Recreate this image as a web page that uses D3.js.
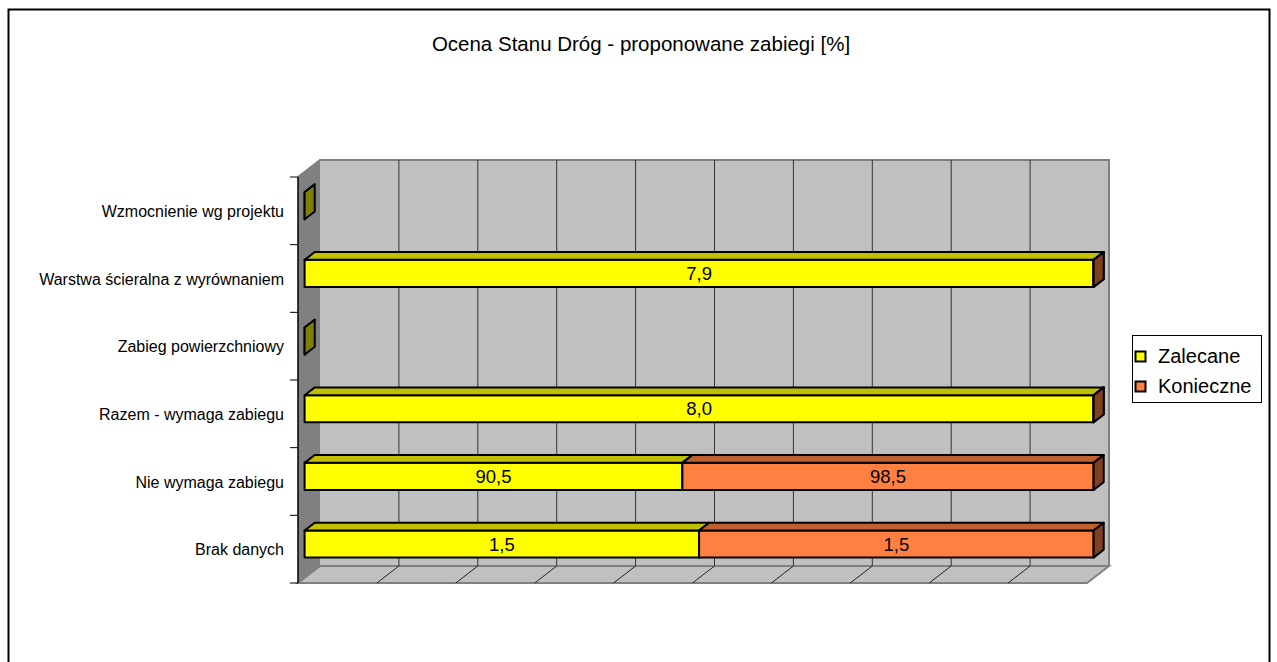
<!DOCTYPE html>
<html>
<head>
<meta charset="utf-8">
<script src="https://cdn.jsdelivr.net/npm/d3@7"></script>
<style>
  html, body { margin: 0; padding: 0; background: #fff; }
  svg { display: block; font-family: "Liberation Sans", Arial, sans-serif; }
</style>
</head>
<body>
<svg id="chart" width="1277" height="662"></svg>
<script>
// ---- data ----
const title = "Ocena Stanu Dróg - proponowane zabiegi [%]";
const categories = [
  "Wzmocnienie wg projektu",
  "Warstwa ścieralna z wyrównaniem",
  "Zabieg powierzchniowy",
  "Razem - wymaga zabiegu",
  "Nie wymaga zabiegu",
  "Brak danych"
];
const seriesNames = ["Zalecane", "Konieczne"];
const zalecane  = [0, 7.9, 0, 8.0, 90.5, 1.5];
const konieczne = [0, 0,   0, 0,   98.5, 1.5];
const gridValues = [0.1, 0.2, 0.3, 0.4, 0.5, 0.6, 0.7, 0.8, 0.9];

(function () {
// ---- style ----
const colors = {
  Zalecane:  { front: "#FFFF00", top: "#C0C000", side: "#808000" },
  Konieczne: { front: "#FF8040", top: "#C06030", side: "#804020" }
};

const svg = d3.select("#chart");

// plot geometry (front plane)
const pL = 298, pR = 1087, pT = 177, pB = 583;
const DX = 22, DY = -17;         // depth vector
const zFront = 0.3, zBack = 0.76; // bar depth

const x = d3.scaleLinear().domain([0, 1]).range([pL, pR]);
const y = d3.scaleBand().domain(categories).range([pT, pB])
  .paddingInner(0.6).paddingOuter(0.3);
const proj = (v, yy, z) => [x(v) + z * DX, yy + z * DY];
const pts = arr => arr.map(p => p.join(",")).join(" ");

// outer border
svg.append("rect").attr("x", 8.5).attr("y", 9.5).attr("width", 1261).attr("height", 720)
  .attr("fill", "#fff").attr("stroke", "#000").attr("stroke-width", 2);

// title
svg.append("text").attr("x", 641).attr("y", 51).attr("text-anchor", "middle")
  .attr("font-size", 20.5).attr("fill", "#000").text(title);

// walls
svg.append("polygon") // back wall
  .attr("points", pts([proj(0, pT, 1), proj(1, pT, 1), proj(1, pB, 1), proj(0, pB, 1)]))
  .attr("fill", "#C0C0C0");
svg.append("polygon") // left wall
  .attr("points", pts([proj(0, pT, 0), proj(0, pT, 1), proj(0, pB, 1), proj(0, pB, 0)]))
  .attr("fill", "#808080");
svg.append("polygon") // floor
  .attr("points", pts([proj(0, pB, 0), proj(0, pB, 1), proj(1, pB, 1), proj(1, pB, 0)]))
  .attr("fill", "#C0C0C0").attr("stroke", "#808080").attr("stroke-width", 2);
// back wall top & right edges
svg.append("polyline")
  .attr("points", pts([proj(0, pT, 0), proj(0, pT, 1), proj(1, pT, 1), proj(1, pB, 1)]))
  .attr("fill", "none").attr("stroke", "#808080").attr("stroke-width", 2);

// grid on back wall and floor
gridValues.forEach(v => {
  const a = proj(v, pT, 1), b = proj(v, pB, 1), c = proj(v, pB, 0);
  svg.append("line").attr("x1", a[0]).attr("y1", a[1]).attr("x2", b[0]).attr("y2", b[1])
    .attr("stroke", "#333").attr("stroke-width", 1);
  svg.append("line").attr("x1", c[0]).attr("y1", c[1]).attr("x2", b[0]).attr("y2", b[1])
    .attr("stroke", "#222").attr("stroke-width", 1);
});

// category axis
svg.append("line").attr("x1", pL).attr("y1", pT).attr("x2", pL).attr("y2", pB)
  .attr("stroke", "#000").attr("stroke-width", 1.5);
const step = y.step();
d3.range(categories.length + 1).forEach(i => {
  const yy = pT + i * step;
  svg.append("line").attr("x1", pL - 8).attr("y1", yy).attr("x2", pL).attr("y2", yy)
    .attr("stroke", "#000").attr("stroke-width", 1);
});
categories.forEach(c => {
  svg.append("text").attr("x", 284).attr("y", y(c) + y.bandwidth() / 2 + 6)
    .attr("text-anchor", "end").attr("font-size", 16).attr("fill", "#000").text(c);
});

// bars
const fmt = v => v.toFixed(1).replace(".", ",");
categories.forEach((c, i) => {
  const vals = [zalecane[i], konieczne[i]];
  const total = vals[0] + vals[1];
  const y0 = y(c), y1 = y(c) + y.bandwidth();
  let acc = 0;
  const segs = [];
  vals.forEach((v, j) => {
    const share = total > 0 ? v / total : 0;
    segs.push({ name: seriesNames[j], v, v0: acc, v1: acc + share });
    acc += share;
  });
  const drawSegs = total > 0 ? segs : segs.slice(0, 1);
  drawSegs.forEach(s => {
    const col = colors[s.name];
    const g = svg.append("g").attr("stroke", "#000").attr("stroke-width", 2).attr("stroke-linejoin", "round");
    g.append("polygon").attr("fill", col.front)
      .attr("points", pts([proj(s.v0, y0, zFront), proj(s.v1, y0, zFront), proj(s.v1, y1, zFront), proj(s.v0, y1, zFront)]));
    g.append("polygon").attr("fill", col.top)
      .attr("points", pts([proj(s.v0, y0, zFront), proj(s.v0, y0, zBack), proj(s.v1, y0, zBack), proj(s.v1, y0, zFront)]));
    g.append("polygon").attr("fill", col.side)
      .attr("points", pts([proj(s.v1, y0, zFront), proj(s.v1, y0, zBack), proj(s.v1, y1, zBack), proj(s.v1, y1, zFront)]));
  });
  segs.forEach(s => {
    if (s.v > 0) {
      const a = proj((s.v0 + s.v1) / 2, (y0 + y1) / 2, zFront);
      svg.append("text").attr("x", a[0]).attr("y", a[1]).attr("dy", "0.36em")
        .attr("text-anchor", "middle").attr("font-size", 18.5).attr("fill", "#000").text(fmt(s.v));
    }
  });
});

// legend
const lg = svg.append("g");
lg.append("rect").attr("x", 1132.5).attr("y", 335.5).attr("width", 129).attr("height", 67)
  .attr("fill", "#fff").attr("stroke", "#000").attr("stroke-width", 1);
seriesNames.forEach((n, i) => {
  const yy = 351 + i * 30;
  lg.append("rect").attr("x", 1135.5).attr("y", yy + 0.5).attr("width", 10).attr("height", 10)
    .attr("fill", colors[n].front).attr("stroke", "#000").attr("stroke-width", 2);
  lg.append("text").attr("x", 1158).attr("y", yy + 11.5).attr("font-size", 20).attr("fill", "#000").text(n);
});
})();
</script>
</body>
</html>
